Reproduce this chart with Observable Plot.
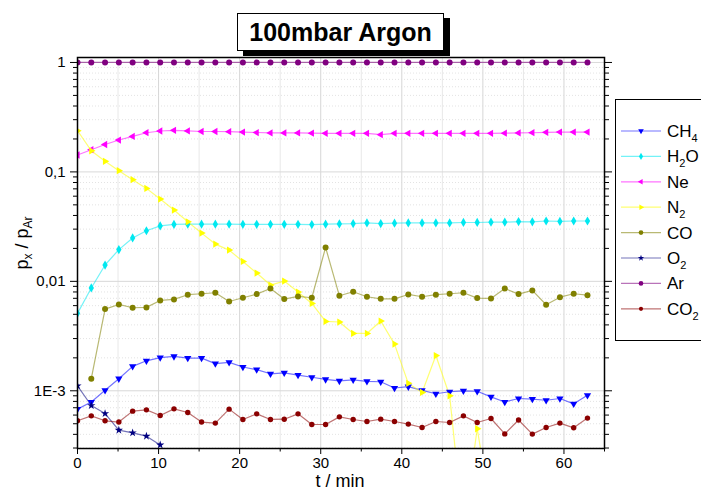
<!DOCTYPE html>
<html><head><meta charset="utf-8">
<script src="https://cdn.jsdelivr.net/npm/d3@7"></script>
<script src="https://cdn.jsdelivr.net/npm/@observablehq/plot@0.6"></script>
<style>
body{margin:0;background:#fff;font-family:"Liberation Sans",Arial,sans-serif;}
#wrap{position:relative;width:701px;height:492px;overflow:hidden;background:#fff;}
#title{position:absolute;left:237px;top:13px;width:205px;height:36px;border:1.5px solid #000;background:#fff;box-shadow:6px 5px 0 #000;font-weight:bold;font-size:25px;line-height:36px;text-align:center;color:#000;}
#legend{position:absolute;left:615px;top:99px;overflow:hidden;}
</style></head><body>
<div id="wrap"><div id="chart"></div><div id="title">100mbar Argon</div><svg id="legend" width="90" height="243"></svg></div>
<script>
// time axis (min)
const times = [0,1.7,3.4,5.1,6.8,8.5,10.2,11.9,13.6,15.3,17,18.7,20.4,22.1,23.8,25.5,27.2,28.9,30.6,32.3,34,35.7,37.4,39.1,40.8,42.5,44.2,45.9,47.6,49.3,51,52.7,54.4,56.1,57.8,59.5,61.2,62.9];

// series values (p_x / p_Ar)
const CH4 = [0.00068,0.00079,0.00101,0.00129,0.00167,0.00188,0.00201,0.00206,0.00199,0.00199,0.00177,0.00182,0.00165,0.00156,0.00143,0.00146,0.00139,0.00133,0.00127,0.00123,0.00126,0.00122,0.00121,0.00106,0.00109,0.00101,0.00094,0.00098,0.00100,0.00099,0.00088,0.00079,0.00085,0.00084,0.00082,0.00085,0.00076,0.00091];
const H2O = [0.0051,0.0087,0.0141,0.0195,0.0249,0.029,0.0321,0.0331,0.0333,0.0333,0.0333,0.0333,0.0332,0.0332,0.0332,0.0332,0.0332,0.0330,0.0333,0.0335,0.0337,0.0342,0.0337,0.0340,0.0342,0.0342,0.0342,0.0342,0.0345,0.0345,0.0347,0.0347,0.0352,0.0350,0.0356,0.0353,0.0356,0.0356];
const Ne = [0.1427,0.1596,0.178,0.1956,0.211,0.228,0.2365,0.240,0.237,0.234,0.234,0.233,0.231,0.229,0.227,0.227,0.227,0.226,0.225,0.225,0.225,0.225,0.219,0.225,0.225,0.225,0.225,0.225,0.225,0.225,0.225,0.226,0.227,0.228,0.230,0.231,0.231,0.231];
const N2 = [0.238,0.156,0.125,0.1025,0.085,0.0707,0.0565,0.0448,0.035,0.0276,0.0219,0.0193,0.0152,0.0119,0.00925,0.01006,0.00799,0.00628,0.0043,0.00425,0.00334,0.00334,0.00434,0.00267,0.00117,0.000966,0.0021,0.0009,0.000055,0.00045,0.00008];
const CO = [null,0.00129,0.00558,0.00615,0.00574,0.00578,0.00669,0.00684,0.00755,0.0077,0.00787,0.00655,0.00708,0.00765,0.00861,0.00689,0.00728,0.00708,0.0204,0.00738,0.00803,0.00723,0.00692,0.00692,0.00759,0.00723,0.00755,0.0077,0.00787,0.00703,0.00698,0.00861,0.00765,0.00826,0.00611,0.00717,0.0077,0.00747];
const O2 = [0.00111,0.000734,0.00062,0.000437,0.000413,0.000385,0.00032];
const Ar = [1,1,1,1,1,1,1,1,1,1,1,1,1,1,1,1,1,1,1,1,1,1,1,1,1,1,1,1,1,1,1,1,1,1,1,1,1,1];
const CO2 = [0.000532,0.00059,0.000532,0.000518,0.000652,0.00067,0.000595,0.000684,0.000634,0.000518,0.000507,0.00068,0.000547,0.000616,0.000547,0.00055,0.000616,0.000492,0.000492,0.000578,0.000547,0.000524,0.000551,0.000524,0.000496,0.000462,0.000524,0.000513,0.00059,0.000513,0.000558,0.000404,0.000541,0.000402,0.000462,0.000507,0.000459,0.000563];

// tick labels
const xTicks = [0,10,20,30,40,50,60];
const xMinorTicks = [5,15,25,35,45,55,65];
const yTicks = [0.001,0.01,0.1,1];
const yTickLabels = ["1E-3","0,01","0,1","1"];
const yMinorTicks = [0.0003,0.0004,0.0005,0.0006,0.0007,0.0008,0.0009,0.002,0.003,0.004,0.005,0.006,0.007,0.008,0.009,0.02,0.03,0.04,0.05,0.06,0.07,0.08,0.09,0.2,0.3,0.4,0.5,0.6,0.7,0.8,0.9];

const series = [
  {name:"CH4", values:CH4, color:"#0000ff", symbol:"triangle", rotate:180, r:2.7},
  {name:"H2O", values:H2O, color:"#00e8f0", symbol:"diamond", rotate:0, r:2.8},
  {name:"Ne",  values:Ne,  color:"#ff00ff", symbol:"triangle", rotate:-90, r:2.7},
  {name:"N2",  values:N2,  color:"#ffff00", symbol:"triangle", rotate:90, r:2.7},
  {name:"CO",  values:CO,  color:"#808000", symbol:"circle", rotate:0, r:3.0},
  {name:"O2",  values:O2,  color:"#000080", symbol:"star", rotate:0, r:2.6},
  {name:"Ar",  values:Ar,  color:"#800080", symbol:"circle", rotate:0, r:3.0},
  {name:"CO2", values:CO2, color:"#8b0000", symbol:"circle", rotate:0, r:2.7}
];

const rows = s => s.values.map((v,i)=>({t:times[i], v})).filter(d=>d.v!=null);

const marks = [
  Plot.ruleX(xTicks.slice(1), {stroke:"#d6d6d6", strokeWidth:1}),
  Plot.ruleX(xMinorTicks.slice(0,-1), {stroke:"#e8e8e8", strokeWidth:1}),
  Plot.ruleY(yTicks, {stroke:"#d9d9d9", strokeWidth:1}),
  Plot.ruleY(yMinorTicks, {stroke:"#dcdcdc", strokeWidth:0.8, strokeDasharray:"1,2"}),
];
for (const s of series) {
  marks.push(Plot.line(rows(s), {x:"t", y:"v", stroke:s.color, strokeOpacity:0.55, strokeWidth:1.2, clip:true}));
}
for (const s of series) {
  marks.push(Plot.dot(rows(s), {x:"t", y:"v", symbol:s.symbol, r:s.r, fill:s.color, stroke:"none", rotate:s.rotate, clip:true}));
}
marks.push(
  Plot.frame({stroke:"#000", strokeWidth:1.5}),
  Plot.axisX(xTicks, {tickSize:6, tickPadding:3, fontSize:15, label:null, tickFormat:d=>String(d)}),
  Plot.axisX(xMinorTicks, {tickSize:3.5, label:null, tickFormat:()=>""}),
  Plot.axisY(yTicks, {anchor:"left", tickSize:7, tickPadding:5, fontSize:15, label:null, tickFormat:d=>yTickLabels[yTicks.indexOf(d)]}),
  Plot.axisY(yMinorTicks, {anchor:"left", tickSize:4, label:null, tickFormat:()=>""}),
  Plot.axisY(yTicks, {anchor:"right", tickSize:7, label:null, tickFormat:()=>""}),
  Plot.axisY(yMinorTicks, {anchor:"right", tickSize:4, label:null, tickFormat:()=>""})
);

const chart = Plot.plot({
  width:701, height:492,
  marginLeft:77, marginRight:97, marginTop:57, marginBottom:44,
  style:{fontFamily:"'Liberation Sans', Arial, sans-serif", fontSize:"15px", background:"#fff", color:"#000"},
  x:{type:"linear", domain:[0,65]},
  y:{type:"log", domain:[2.97e-4, 1.11]},
  marks
});
document.getElementById("chart").appendChild(chart);

// helper: chemical labels with subscripts
function addSub(textSel, str, subSize, dy) {
  const parts = str.match(/[A-Za-z ]+|\d+/g);
  let sub = false;
  for (const p of parts) {
    const isNum = /^\d+$/.test(p);
    const ts = textSel.append("tspan").text(p);
    if (isNum && !sub) { ts.attr("font-size", subSize).attr("dy", dy); sub = true; }
    else if (!isNum && sub) { ts.attr("dy", -dy); sub = false; }
  }
}

// axis titles
const svg = d3.select(chart);
svg.append("text").attr("x", 340).attr("y", 487).attr("text-anchor","middle")
  .attr("font-size", 18).attr("fill","#000").text("t / min");
const yl = svg.append("text").attr("transform","translate(28,243) rotate(-90)")
  .attr("text-anchor","middle").attr("font-size",18).attr("fill","#000");
yl.append("tspan").text("p");
yl.append("tspan").attr("font-size",12).attr("dy",4).text("x");
yl.append("tspan").attr("dy",-4).text(" / p");
yl.append("tspan").attr("font-size",12).attr("dy",4).text("Ar");

// legend
const lg = d3.select("#legend");
lg.append("rect").attr("x",0.5).attr("y",0.5).attr("width",120).attr("height",241)
  .attr("fill","#fff").attr("stroke","#000").attr("stroke-width",1);
series.forEach((s,i)=>{
  const y = 32 + i*25.4;
  lg.append("line").attr("x1",6).attr("x2",46).attr("y1",y).attr("y2",y)
    .attr("stroke",s.color).attr("stroke-opacity",0.55).attr("stroke-width",1.2);
  const sym = {triangle:d3.symbolTriangle, diamond:d3.symbolDiamond, circle:d3.symbolCircle, star:d3.symbolStar}[s.symbol];
  lg.append("path").attr("d", d3.symbol(sym, Math.PI*s.r*s.r*0.6)())
    .attr("transform",`translate(26,${y}) rotate(${s.rotate})`).attr("fill",s.color);
  const t = lg.append("text").attr("x",52).attr("y",y+6).attr("font-size",17).attr("fill","#000")
    .attr("font-family","'Liberation Sans', Arial, sans-serif");
  addSub(t, s.name, 11, 5);
});
</script>
</body></html>
